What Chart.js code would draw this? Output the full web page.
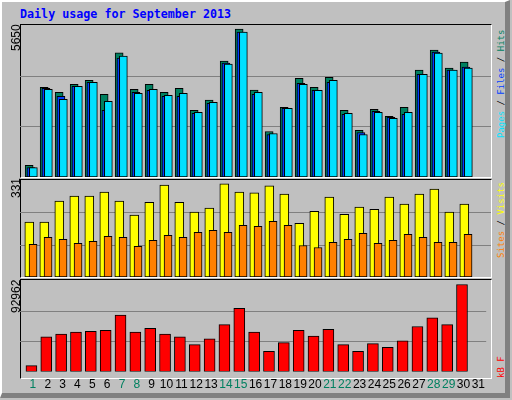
<!DOCTYPE html>
<html>
<head>
<meta charset="utf-8">
<script src="https://cdn.jsdelivr.net/npm/chart.js@4"></script>
<style>
  body { margin: 0; background: #c0c0c0; }
  #frame { position: absolute; left: 0; top: 0; width: 510px; height: 398px; background: #c0c0c0;
    border-top: 2px solid #fff; border-left: 2px solid #fff; border-right: 5px solid #808080; border-bottom: 5px solid #808080; box-sizing: border-box; }
  .panel { position: absolute; left: 20px; width: 472px; box-sizing: border-box;
    border-top: 1px solid #000; border-left: 1px solid #000; border-right: 1px solid #fff; border-bottom: 1px solid #fff; }
  canvas { position: absolute; }
  .title { position: absolute; left: 20px; top: 7px; font: bold 11.7px "DejaVu Sans Mono", monospace; color: #0000ff; }
  .rot { position: absolute; transform-origin: 0 0; transform: rotate(-90deg); white-space: nowrap; }
  .max { font: 12px "Liberation Sans", sans-serif; color: #000; }
  .leg { font: 9px "DejaVu Sans Mono", monospace; }
</style>
</head>
<body>
<div id="frame"></div>
<div class="title">Daily usage for September 2013</div>
<div class="panel" style="top:24px;height:154px"></div>
<div class="panel" style="top:179px;height:99px"></div>
<div class="panel" style="top:279px;height:100px"></div>
<canvas id="topChart" style="left:20px;top:25px" width="471" height="152"></canvas>
<canvas id="midChart" style="left:20px;top:180px" width="471" height="97"></canvas>
<canvas id="kbChart" style="left:20px;top:281px" width="471" height="117"></canvas>
<div class="rot max" style="left:9px;top:51px">5650</div>
<div class="rot max" style="left:9px;top:198px">331</div>
<div class="rot max" style="left:9px;top:313px">92962</div>
<div class="rot leg" style="left:496px;top:138px"><span style="color:#00e0ff">Pages</span> / <span style="color:#0040ff">Files</span> / <span style="color:#008060">Hits</span></div>
<div class="rot leg" style="left:496px;top:258px"><span style="color:#ff8000">Sites</span> / <span style="color:#ffff00">Visits</span></div>
<div class="rot leg" style="left:496px;top:378px;color:#ff0000">kB F</div>
<script>
const days = Array.from({ length: 31 }, (_, i) => i + 1);
const weekendDays = [1, 7, 8, 14, 15, 21, 22, 28, 29];

const hits = [447, 3426, 3234, 3541, 3694, 3157, 4742, 3349, 3541, 3234, 3387, 2544, 2940, 4423, 5650,
  3323, 1738, 2659, 3771, 3426, 3809, 2544, 1777, 2582, 2314, 2659, 4078, 4845, 4155, 4384];
const files = [358, 3387, 3081, 3464, 3618, 2544, 4538, 3234, 3311, 3081, 3081, 2429, 2812, 4346, 5535,
  3157, 1623, 2620, 3579, 3311, 3618, 2390, 1700, 2505, 2275, 2390, 3924, 4768, 4078, 4193];
const pages = [358, 3349, 2966, 3464, 3617, 2889, 4614, 3196, 3349, 3119, 3196, 2467, 2850, 4308, 5535,
  3234, 1662, 2620, 3541, 3311, 3694, 2429, 1623, 2467, 2237, 2467, 3924, 4730, 4078, 4155];
const visits = [195, 195, 270, 288, 288, 302, 270, 220, 266, 327, 266, 231, 245, 331, 302,
  299, 324, 295, 191, 234, 284, 223, 249, 241, 284, 259, 295, 313, 231, 259];
const sites = [116, 141, 134, 120, 127, 145, 141, 109, 130, 148, 141, 159, 166, 159, 184,
  180, 198, 184, 112, 105, 123, 134, 155, 120, 130, 152, 141, 123, 123, 152];
const kbytes = [6446, 36982, 40035, 42070, 43088, 44106, 60391, 42070, 46142, 40035, 36982, 28838, 34946, 50213, 67516,
  42070, 21714, 30874, 44106, 37999, 45124, 28838, 21714, 29856, 25785, 32910, 48177, 57338, 50213, 92962];

function points(values, shift) {
  return values.map((v, i) => ({ x: days[i] + shift, y: v }));
}

const gridPlugin = {
  id: "thirds",
  beforeDatasetsDraw(chart) {
    const { ctx, chartArea, scales } = chart;
    const max = scales.y.max;
    ctx.save();
    ctx.strokeStyle = "#808080";
    ctx.lineWidth = 1;
    [max / 3, (2 * max) / 3].forEach((v) => {
      const y = Math.round(scales.y.getPixelForValue(v)) + 0.5;
      ctx.beginPath();
      ctx.moveTo(chartArea.left, y);
      ctx.lineTo(chartArea.right, y);
      ctx.stroke();
    });
    ctx.restore();
  }
};

// lower order is drawn on top
function bar(label, data, color, shift, width, order) {
  return { label, data: points(data, shift), backgroundColor: color, borderColor: "#000",
    borderWidth: 1, barThickness: width, borderSkipped: false, grouped: false, order };
}

function makeChart(id, datasets, yMax, showX) {
  return new Chart(document.getElementById(id), {
    type: "bar",
    data: { datasets },
    plugins: [gridPlugin],
    options: {
      responsive: false,
      animation: false,
      devicePixelRatio: 1,
      layout: { padding: 0 },
      plugins: { legend: { display: false }, tooltip: { enabled: false } },
      scales: {
        x: {
          type: "linear", min: 0.13, max: 31.53, offset: false,
          display: showX,
          grid: { display: false, drawTicks: false },
          border: { display: false },
          afterBuildTicks: (scale) => { scale.ticks = days.map((d) => ({ value: d })); },
          ticks: {
            autoSkip: false, maxRotation: 0, padding: 6,
            font: { family: "Liberation Sans", size: 12 },
            color: (c) => (weekendDays.includes(c.tick.value) ? "#008060" : "#000"),
            callback: (v) => String(v)
          }
        },
        y: { display: false, min: 0, max: yMax }
      }
    }
  });
}

makeChart("topChart", [
  bar("Hits", hits, "#008060", -0.26, 8, 3),
  bar("Files", files, "#0040ff", -0.14, 8, 2),
  bar("Pages", pages, "#00e0ff", 0.02, 8, 1)
], 5803, false);

makeChart("midChart", [
  bar("Visits", visits, "#ffff00", -0.25, 9, 2),
  bar("Sites", sites, "#ff8000", 0, 8, 1)
], 345, false);

makeChart("kbChart", [
  bar("kB F", kbytes, "#ff0000", -0.1, 11, 1)
], 96700, true);
</script>
</body>
</html>
